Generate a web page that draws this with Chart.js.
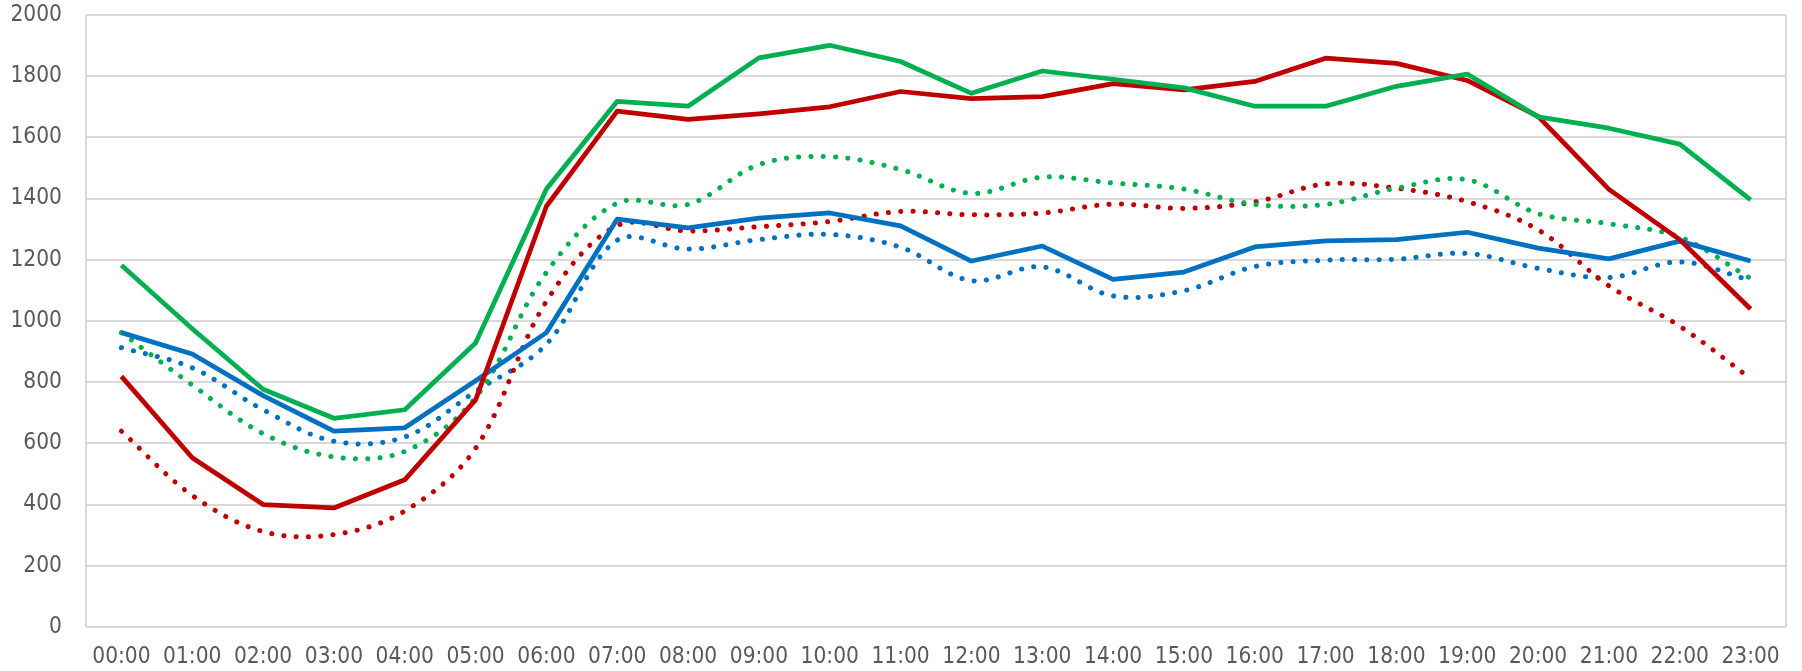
<!DOCTYPE html>
<html>
<head>
<meta charset="utf-8">
<script src="https://cdn.jsdelivr.net/npm/chart.js@4/dist/chart.umd.min.js"></script>
<style>
  html, body { margin: 0; padding: 0; background: #fff; }
  #wrap { width: 1802px; height: 671px; position: relative; }
</style>
</head>
<body>
<div id="wrap"><canvas id="chart"></canvas></div>
<script>
const hours = [
  "00:00", "01:00", "02:00", "03:00", "04:00", "05:00", "06:00", "07:00",
  "08:00", "09:00", "10:00", "11:00", "12:00", "13:00", "14:00", "15:00",
  "16:00", "17:00", "18:00", "19:00", "20:00", "21:00", "22:00", "23:00"
]

// solid lines
const greenSolid = [1182, 975, 777, 682, 710, 928, 1431, 1718, 1702, 1860, 1901, 1848,
  1744, 1817, 1790, 1762, 1702, 1702, 1767, 1807, 1667, 1630, 1578, 1396]
const redSolid = [819, 553, 400, 389, 481, 742, 1375, 1686, 1659, 1677, 1700, 1750,
  1727, 1733, 1776, 1755, 1783, 1859, 1842, 1786, 1669, 1430, 1266, 1039]
const blueSolid = [962, 892, 756, 640, 651, 805, 962, 1333, 1304, 1336, 1353, 1311,
  1196, 1245, 1136, 1160, 1242, 1262, 1266, 1290, 1238, 1203, 1261, 1196]

// dotted (smoothed) lines
const greenDotted = [962, 791, 632, 556, 574, 750, 1159, 1385, 1381, 1511, 1537, 1495,
  1417, 1470, 1451, 1431, 1381, 1381, 1434, 1462, 1351, 1318, 1274, 1139]
const redDotted = [640, 430, 312, 302, 379, 584, 1064, 1312, 1294, 1308, 1325, 1358,
  1347, 1353, 1382, 1368, 1389, 1448, 1434, 1390, 1298, 1115, 983, 812]
const blueDotted = [913, 847, 710, 607, 621, 770, 924, 1264, 1235, 1266, 1283, 1241,
  1132, 1177, 1082, 1099, 1178, 1199, 1202, 1221, 1172, 1142, 1193, 1133]

const yTicks = [0, 200, 400, 600, 800, 1000, 1200, 1400, 1600, 1800, 2000]

const GREEN = '#00B050'
const RED = '#C00000'
const BLUE = '#0070C0'
const GRID = '#d9d9d9'
const LABEL = '#595959'
const FONT = { family: '"DejaVu Sans Condensed", "DejaVu Sans", sans-serif', size: 22.5 }

const solid = (data, color) => ({
  data,
  borderColor: color,
  borderWidth: 4.75,
  pointRadius: 0,
  tension: 0,
  borderJoinStyle: 'round',
  fill: false
})

const dotted = (data, color) => ({
  data,
  borderColor: color,
  borderWidth: 5,
  pointRadius: 0,
  tension: 0.35,
  borderDash: [0.1, 12.2],
  borderCapStyle: 'round',
  fill: false
})

const makeChart = (el) => {
  return new Chart(el, {
    type: 'line',
    data: {
      labels: hours,
      datasets: [
        solid(greenSolid, GREEN),
        solid(redSolid, RED),
        solid(blueSolid, BLUE),
        dotted(greenDotted, GREEN),
        dotted(redDotted, RED),
        dotted(blueDotted, BLUE)
      ]
    },
    options: {
      responsive: true,
      maintainAspectRatio: false,
      animation: false,
      layout: { padding: { left: 0, right: 16, top: 0, bottom: 0 } },
      plugins: { legend: { display: false }, tooltip: { enabled: false } },
      scales: {
        x: {
          offset: true,
          border: { display: false },
          afterFit: (scale) => { scale.height = 44 },
          grid: {
            offset: true,
            drawTicks: false,
            lineWidth: 2,
            // only the two outer edges of the plot
            color: (c) => (c.type === 'scale' || c.index === 0) ? GRID : 'rgba(0,0,0,0)'
          },
          ticks: {
            color: LABEL,
            padding: 17,
            maxRotation: 0,
            autoSkip: false,
            font: FONT
          }
        },
        y: {
          min: 0,
          max: 2000,
          border: { display: false },
          afterFit: (scale) => {
            scale.width = 86
            scale.paddingTop = 15
            scale.paddingBottom = 0
          },
          grid: { color: GRID, lineWidth: 2, drawTicks: false },
          afterBuildTicks: (scale) => { scale.ticks = yTicks.map(v => ({ value: v })) },
          ticks: {
            color: LABEL,
            padding: 24,
            font: FONT,
            callback: (v) => String(v)
          }
        }
      }
    }
  })
}

makeChart(document.getElementById('chart'))
</script>
</body>
</html>
